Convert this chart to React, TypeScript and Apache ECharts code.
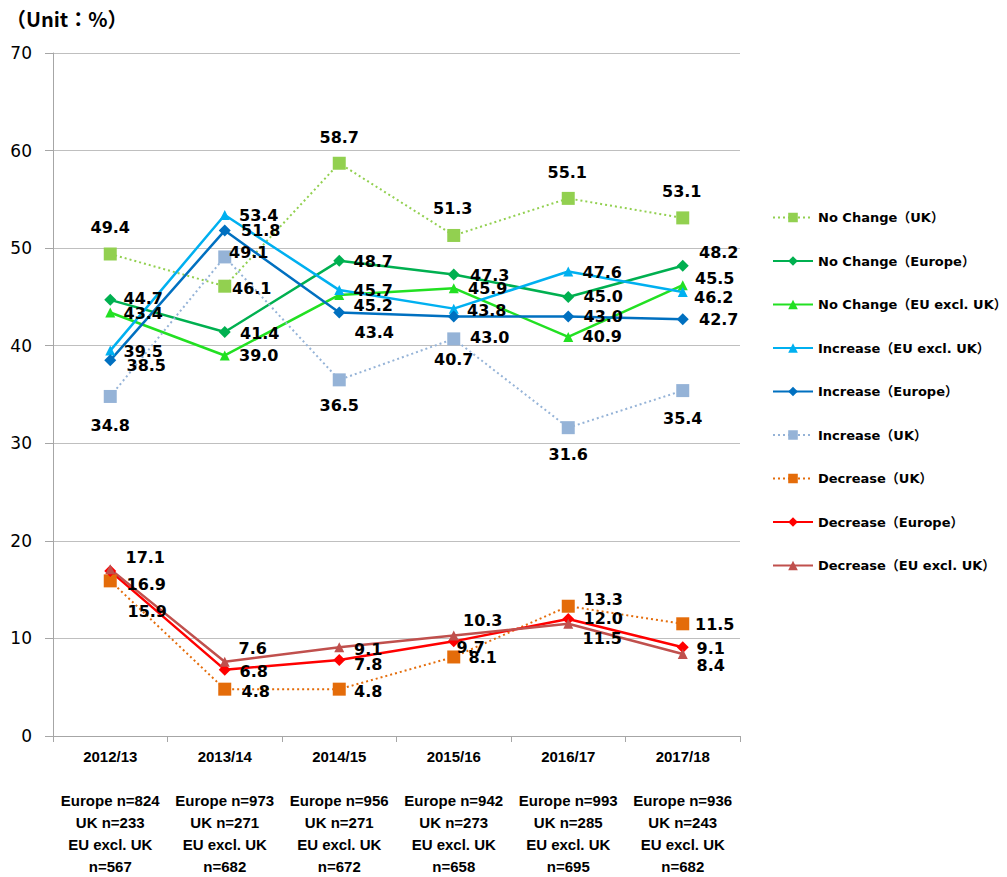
import React, { useEffect, useRef } from "react";
import * as echarts from "echarts";

const categories = ["2012/13", "2013/14", "2014/15", "2015/16", "2016/17", "2017/18"];
const nEurope = [824, 973, 956, 942, 993, 936];
const nUK = [233, 271, 271, 273, 285, 243];
const nEUx = [567, 682, 672, 658, 695, 682];

const yTicks = [0, 10, 20, 30, 40, 50, 60, 70];

const noChangeUK = [49.4, 46.1, 58.7, 51.3, 55.1, 53.1];
const noChangeEurope = [44.7, 41.4, 48.7, 47.3, 45.0, 48.2];
const noChangeEUx = [43.4, 39.0, 45.2, 45.9, 40.9, 46.2];
const increaseEUx = [39.5, 53.4, 45.7, 43.8, 47.6, 45.5];
const increaseEurope = [38.5, 51.8, 43.4, 43.0, 43.0, 42.7];
const increaseUK = [34.8, 49.1, 36.5, 40.7, 31.6, 35.4];
const decreaseUK = [15.9, 4.8, 4.8, 8.1, 13.3, 11.5];
const decreaseEurope = [16.9, 6.8, 7.8, 9.7, 12.0, 9.1];
const decreaseEUx = [17.1, 7.6, 9.1, 10.3, 11.5, 8.4];

const seriesNames = [
  "No Change（UK）",
  "No Change（Europe）",
  "No Change（EU excl. UK）",
  "Increase（EU excl. UK）",
  "Increase（Europe）",
  "Increase（UK）",
  "Decrease（UK）",
  "Decrease（Europe）",
  "Decrease（EU excl. UK）",
];

// label centre offsets from the marker (style)
const labelOffsets: number[][][] = [
  [[0, -26], [27, 2], [0, -26], [-1, -27], [-1, -26], [-1, -26]],
  [[33, -1], [35, 1], [34, 1], [36, 1], [35, 0], [36, -13]],
  [[33, 1], [34, 0], [34, 11], [34, 0], [34, 0], [31, 12]],
  [[33, 1], [34, 1], [34, 0], [33, 2], [34, 1], [32, -14]],
  [[36, 5], [36, 0], [35, 20], [36, 21], [35, 0], [36, 0]],
  [[0, 29], [24, -4], [0, 26], [0, 21], [0, 27], [0, 28]],
  [[37, 31], [31, 2], [29, 2], [29, 1], [35, -7], [32, 1]],
  [[36, 13], [29, 2], [29, 5], [17, 6], [35, 0], [28, 1]],
  [[35, -12], [28, -13], [29, 2], [29, -15], [34, 15], [28, 11]],
];

const styles = [
  { color: "#92D050", symbol: "rect", size: 13, dotted: true, width: 2 },
  { color: "#00B050", symbol: "diamond", size: 12, dotted: false, width: 2.5 },
  { color: "#22E022", symbol: "triangle", size: 10, dotted: false, width: 2.5 },
  { color: "#00B0F0", symbol: "triangle", size: 10, dotted: false, width: 2.5 },
  { color: "#0070C0", symbol: "diamond", size: 12, dotted: false, width: 2.5 },
  { color: "#95B3D7", symbol: "rect", size: 13, dotted: true, width: 2 },
  { color: "#E46C0A", symbol: "rect", size: 13, dotted: true, width: 2 },
  { color: "#FF0000", symbol: "diamond", size: 12, dotted: false, width: 2.5 },
  { color: "#C0504D", symbol: "triangle", size: 10, dotted: false, width: 2.5 },
];

const allValues = [
  noChangeUK, noChangeEurope, noChangeEUx,
  increaseEUx, increaseEurope, increaseUK,
  decreaseUK, decreaseEurope, decreaseEUx,
];

const numFont = "'DejaVu Sans', 'Noto Sans CJK JP', sans-serif";

export default function App() {
  const ref = useRef<HTMLDivElement>(null);
  useEffect(() => {
    if (!ref.current) return;
    const chart = echarts.init(ref.current, null, { renderer: "svg" });
    const xLabels = categories.map(
      (c, i) => `${c}\n\nEurope n=${nEurope[i]}\nUK n=${nUK[i]}\nEU excl. UK\nn=${nEUx[i]}`
    );
    const series = allValues.map((vals, si) => {
      const st = styles[si];
      return {
        name: seriesNames[si],
        type: "line",
        symbol: st.symbol,
        symbolSize: st.size,
        itemStyle: { color: st.color },
        lineStyle: { color: st.color, width: st.width, type: st.dotted ? [2, 3] : "solid" },
        label: {
          show: true,
          position: "inside",
          color: "#000",
          fontFamily: numFont,
          fontWeight: "bold",
          fontSize: 16,
          formatter: (p: any) => Number(p.value).toFixed(1),
        },
        data: vals.map((v, i) => ({ value: v, label: { offset: labelOffsets[si][i] } })),
      };
    });
    chart.setOption({
      animation: false,
      backgroundColor: "#fff",
      graphic: [
        {
          type: "text",
          left: 6,
          top: 8,
          style: {
            text: "（Unit：%）",
            fontSize: 20,
            fontWeight: "bold",
            fontFamily: "'Noto Sans CJK JP', sans-serif",
            fill: "#000",
          },
        },
      ],
      legend: {
        orient: "vertical",
        left: 772,
        top: 211,
        padding: 0,
        itemGap: 30.5,
        itemWidth: 40,
        itemHeight: 12,
        data: seriesNames,
        textStyle: { fontSize: 13, fontWeight: "bold", color: "#000", fontFamily: numFont },
      },
      grid: { left: 53, right: 267, top: 53, bottom: 140, containLabel: false },
      xAxis: {
        type: "category",
        data: xLabels,
        boundaryGap: true,
        axisLine: { show: true, lineStyle: { color: "#a6a6a6", width: 1 } },
        axisTick: { show: true, length: 6, alignWithLabel: false, lineStyle: { color: "#a6a6a6" } },
        axisLabel: {
          interval: 0,
          margin: 9,
          color: "#000",
          fontSize: 15,
          fontWeight: "bold",
          lineHeight: 22,
          fontFamily: "'Liberation Sans', Arial, sans-serif",
        },
      },
      yAxis: {
        type: "value",
        min: yTicks[0],
        max: yTicks[yTicks.length - 1],
        interval: 10,
        axisLine: { show: true, lineStyle: { color: "#a6a6a6", width: 1 } },
        axisTick: { show: true, length: 8, lineStyle: { color: "#a6a6a6" } },
        splitLine: { show: true, lineStyle: { color: "#bfbfbf", width: 1 } },
        axisLabel: { color: "#000", fontSize: 17, margin: 21, fontFamily: numFont },
      },
      series,
    });
    return () => chart.dispose();
  }, []);
  return (
    <div
      ref={ref}
      style={{ position: "absolute", left: 0, top: 0, width: 1007, height: 877 }}
    />
  );
}
